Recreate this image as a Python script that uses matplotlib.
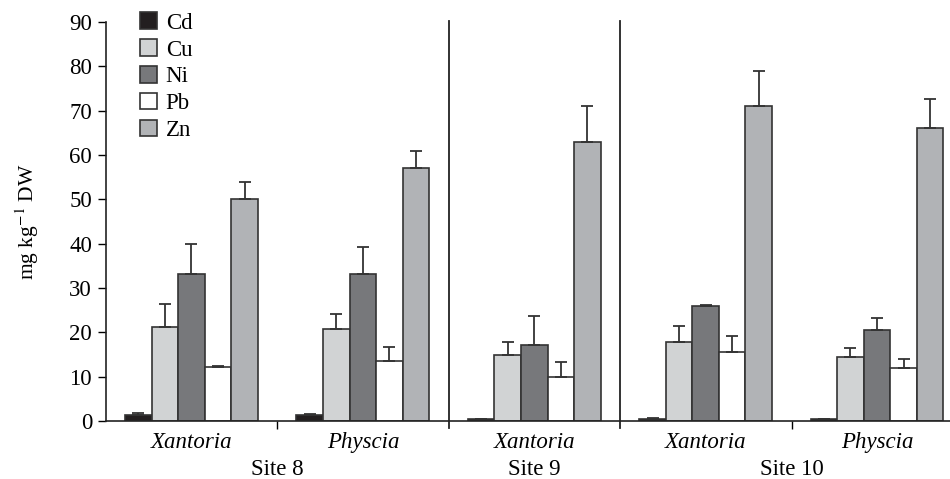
import matplotlib
matplotlib.use("Agg")
import matplotlib.pyplot as plt
import numpy as np

plt.rcParams['font.family'] = ['Liberation Serif', 'DejaVu Serif']
plt.rcParams['mathtext.fontset'] = 'stix'

metals = ["Cd", "Cu", "Ni", "Pb", "Zn"]
species = ["Xantoria", "Physcia", "Xantoria", "Xantoria", "Physcia"]
sites = ["Site 8", "Site 9", "Site 10"]

# values per group (Cd, Cu, Ni, Pb, Zn)
means = {
    "Cd": [1.3, 1.3, 0.4, 0.5, 0.4],
    "Cu": [21.1, 20.7, 14.8, 17.8, 14.5],
    "Ni": [33.2, 33.2, 17.1, 25.9, 20.5],
    "Pb": [12.1, 13.5, 9.9, 15.6, 12.0],
    "Zn": [50.1, 57.0, 63.0, 71.1, 66.2],
}
errs = {
    "Cd": [0.5, 0.2, 0.1, 0.1, 0.1],
    "Cu": [5.4, 3.4, 3.0, 3.6, 2.0],
    "Ni": [6.7, 6.1, 6.5, 0.3, 2.8],
    "Pb": [0.4, 3.1, 3.5, 3.6, 1.9],
    "Zn": [3.7, 4.0, 8.0, 7.9, 6.5],
}
colors = {"Cd": "#231f20", "Cu": "#d1d3d4", "Ni": "#77787b", "Pb": "#ffffff", "Zn": "#b1b3b6"}

fig = plt.figure(figsize=(9.5, 4.79), dpi=100)
W, H = 950, 479
x0, x1 = 106, 963
y0, y1 = 421, 22
ax = fig.add_axes([x0 / W, 1 - y0 / H, (x1 - x0) / W, (y0 - y1) / H])

ngroups = len(species)
bw = 0.155
offset0 = 0.111
for i, m in enumerate(metals):
    xs = np.arange(ngroups) + offset0 + bw * (i + 0.5)
    ax.bar(xs, means[m], width=bw, color=colors[m], edgecolor="#333333",
           linewidth=1.2, label=m, zorder=2)
    ax.errorbar(xs, means[m], yerr=[np.zeros(ngroups), errs[m]], fmt="none",
                ecolor="#333333", elinewidth=1.3, capsize=4.5, capthick=1.3, zorder=3)

ax.set_xlim(0, ngroups)
ax.set_ylim(0, 90)
ax.set_yticks(np.arange(0, 91, 10))
ax.tick_params(axis="y", labelsize=16.5, length=6, width=1, direction="out", pad=4)
ax.set_xticks([1, 4])
ax.set_xticklabels([])
ax.tick_params(axis="x", length=6, width=1, direction="out")
for s in ["top", "right"]:
    ax.spines[s].set_visible(False)
for s in ["left", "bottom"]:
    ax.spines[s].set_linewidth(1.2)
    ax.spines[s].set_color("#222222")

# separators
for xs in [2, 3]:
    ax.plot([xs, xs], [-1.6, 90.3], color="#222222", lw=1.3, clip_on=False, zorder=1)

# species labels
for g, sp in enumerate(species):
    ax.text(g + 0.5, -2.5, sp, style="italic", ha="center", va="top", fontsize=16.5,
            clip_on=False)
site_x = [1.0, 2.5, 4.0]
for sx, st in zip(site_x, sites):
    ax.text(sx, -8.6, st, ha="center", va="top", fontsize=16.5, clip_on=False)

ax.set_ylabel("mg kg$^{-1}$ DW", fontsize=15.5, labelpad=20)

leg = ax.legend(loc="upper left", bbox_to_anchor=(0.029, 1.047), frameon=False,
                fontsize=16.5, handlelength=0.72, handleheight=0.72,
                handletextpad=0.4, labelspacing=0.25, borderaxespad=0)

fig.savefig("out.png", dpi=100)
